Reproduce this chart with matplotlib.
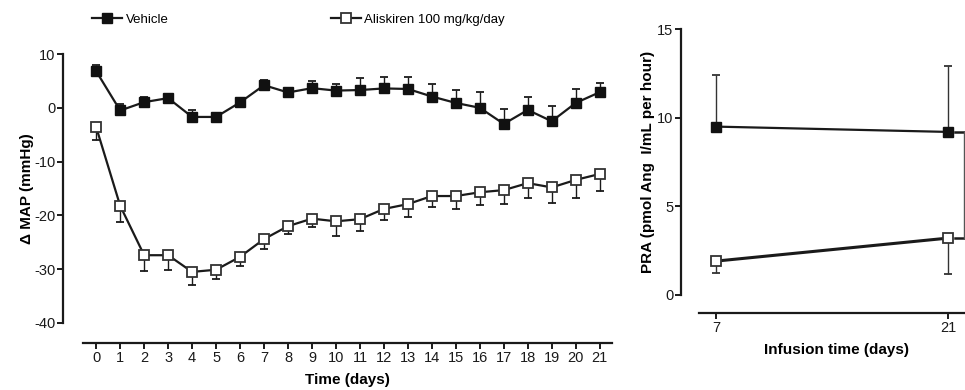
import matplotlib
matplotlib.use("Agg")
import matplotlib.pyplot as plt
from matplotlib.lines import Line2D
import numpy as np

plt.rcParams['font.family'] = ['Liberation Sans', 'DejaVu Sans']
plt.rcParams['axes.unicode_minus'] = False

# Mean arterial pressure change over the infusion period
days = list(range(22))
vehicle_map = [6.8, -0.5, 1.05, 1.8, -1.7, -1.7, 1.0, 4.2, 2.85, 3.65, 3.2,
               3.3, 3.6, 3.5, 2.1, 0.9, 0.0, -3.0, -0.4, -2.5, 0.9, 2.9]
vehicle_map_sem = [1.1, 1.2, 0.95, 0.4, 1.2, 0.4, 0.85, 1.0, 0.75, 1.25, 1.3,
                   2.3, 2.2, 2.2, 2.3, 2.5, 2.9, 2.7, 2.5, 2.9, 2.6, 1.7]
aliskiren_map = [-3.6, -18.2, -27.4, -27.4, -30.5, -30.1, -27.7, -24.4, -22.0, -20.6, -21.1,
                 -20.7, -18.8, -17.9, -16.4, -16.4, -15.7, -15.3, -14.0, -14.8, -13.4, -12.3]
aliskiren_map_sem = [2.35, 3.0, 2.9, 2.7, 2.4, 1.7, 1.7, 1.8, 1.5, 1.6, 2.8,
                     2.2, 2.1, 2.4, 2.1, 2.4, 2.3, 2.5, 2.8, 2.9, 3.4, 3.2]

# Plasma renin activity at days 7 and 21
pra_days = [7, 21]
vehicle_pra = [9.5, 9.2]
vehicle_pra_sem = [2.9, 3.7]
aliskiren_pra = [1.9, 3.2]
aliskiren_pra_sem = [0.7, 2.05]

map_yticks = [10, 0, -10, -20, -30, -40]
pra_yticks = [0, 5, 10, 15]

W, H = 965, 390
fig = plt.figure(figsize=(W / 100, H / 100), dpi=100)

tick_fs = 10.5
label_fs = 11

def px_box(x0, x1, y_top, y_bot):
    return [x0 / W, 1 - y_bot / H, (x1 - x0) / W, (y_bot - y_top) / H]

def style_axes(ax, left_out, bottom_out):
    for s in ('top', 'right'):
        ax.spines[s].set_visible(False)
    ax.spines['left'].set_position(('outward', left_out * 0.72))
    ax.spines['bottom'].set_position(('outward', bottom_out * 0.72))
    for s in ('left', 'bottom'):
        ax.spines[s].set_linewidth(1.6)
        ax.spines[s].set_color('#1a1a1a')
    ax.tick_params(direction='out', length=4, width=1.4, labelsize=tick_fs,
                   colors='#1a1a1a', pad=1.5)

ms = 6.8
line_kw = dict(color='#1a1a1a', lw=1.6)

# ---- Left panel: delta MAP ----
ax1 = fig.add_axes(px_box(83, 611.7, 54, 323))
ax1.set_xlim(-0.55, 21.5)
ax1.set_ylim(-40, 10)
style_axes(ax1, 20, 20)
ax1.set_xticks(days)
ax1.set_yticks(map_yticks)

ax1.errorbar(days, vehicle_map, yerr=[np.zeros(len(days)), vehicle_map_sem],
             fmt='none', ecolor='#1a1a1a', elinewidth=1.0, capsize=3.2, capthick=1.3, zorder=2)
ax1.errorbar(days, aliskiren_map, yerr=[aliskiren_map_sem, np.zeros(len(days))],
             fmt='none', ecolor='#1a1a1a', elinewidth=1.0, capsize=3.2, capthick=1.3, zorder=2)
ax1.plot(days, vehicle_map, marker='s', ms=ms, mfc='#111111', mec='#111111', zorder=3, **line_kw)
ax1.plot(days, aliskiren_map, marker='s', ms=ms, mfc='white', mec='#333333', mew=1.3,
         zorder=3, **line_kw)

ax1.set_xlabel('Time (days)', fontsize=label_fs, fontweight='bold', labelpad=6)
ax1.set_ylabel('Δ MAP (mmHg)', fontsize=label_fs, fontweight='bold', labelpad=0)

# ---- Right panel: PRA ----
ax2 = fig.add_axes(px_box(699, 973, 29.3, 294.7))
ax2.set_xlim(5.96, 22.5)
ax2.set_ylim(0, 15)
style_axes(ax2, 18, 18.6)
ax2.set_xticks(pra_days)
ax2.set_yticks(pra_yticks)

ax2.errorbar(pra_days, vehicle_pra, yerr=[[0, 0], vehicle_pra_sem],
             fmt='none', ecolor='#333333', elinewidth=1.0, capsize=3.2, capthick=1.3, zorder=2)
ax2.errorbar(pra_days, aliskiren_pra, yerr=[aliskiren_pra_sem, [0, 0]],
             fmt='none', ecolor='#333333', elinewidth=1.0, capsize=3.2, capthick=1.3, zorder=2)
ax2.plot(pra_days, vehicle_pra, marker='s', ms=ms, mfc='#111111', mec='#111111', zorder=3,
         color='#1a1a1a', lw=1.6)
ax2.plot(pra_days, aliskiren_pra, marker='s', ms=ms, mfc='white', mec='#333333', mew=1.3,
         zorder=3, color='#1a1a1a', lw=2.2)

# significance bracket between groups at day 21
bx0, bx1 = 21.41, 21.95
ax2.plot([bx0, bx1], [vehicle_pra[1], vehicle_pra[1]], color='#1a1a1a', lw=1.8, clip_on=False)
ax2.plot([bx0, bx1], [aliskiren_pra[1], aliskiren_pra[1]], color='#1a1a1a', lw=1.8, clip_on=False)
ax2.plot([bx1, bx1], [aliskiren_pra[1], vehicle_pra[1]], color='#555555', lw=1.0, clip_on=False)

ax2.set_xlabel('Infusion time (days)', fontsize=label_fs, fontweight='bold', labelpad=6)
ax2.set_ylabel('PRA (pmol Ang  I/mL per hour)', fontsize=label_fs, fontweight='bold', labelpad=1.5)

# ---- Legend across the top ----
handles = [
    Line2D([0], [0], color='#1a1a1a', lw=1.6, marker='s', ms=ms, mfc='#111111', mec='#111111'),
    Line2D([0], [0], color='#1a1a1a', lw=1.6, marker='s', ms=ms, mfc='white', mec='#333333', mew=1.3),
]
fig.legend(handles, ['Vehicle', 'Aliskiren 100 mg/kg/day'], loc='center left',
           bbox_to_anchor=(92 / W, 1 - 20 / H), ncol=2, frameon=False, fontsize=9.5,
           handlelength=2.3, handletextpad=0.25, columnspacing=12.3,
           borderaxespad=0, borderpad=0)

fig.savefig('out.png', dpi=100)
